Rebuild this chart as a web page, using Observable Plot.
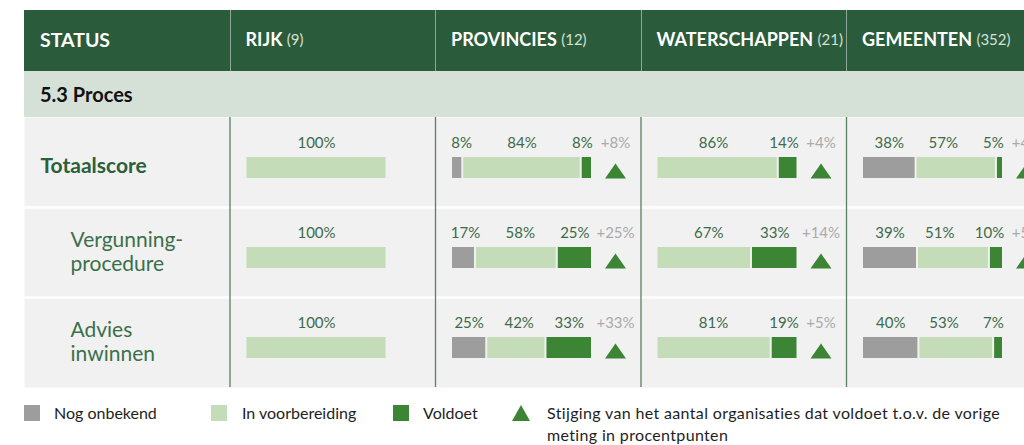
<!DOCTYPE html>
<html>
<head>
<meta charset="utf-8">
<script src="https://cdn.jsdelivr.net/npm/d3@7"></script>
<script src="https://cdn.jsdelivr.net/npm/@observablehq/plot@0.6"></script>
<style>
html,body{margin:0;padding:0;background:#fff;overflow:hidden;font-family:Lato,sans-serif}
#root{position:relative;width:1052px}
.hdr{margin:10px 0 0 24px;height:61px;background:#2a5b3a;display:flex}
.hc{box-sizing:border-box;width:205.5px;flex:none;display:flex;align-items:center;padding:0 0 3px 16px;color:#fff;font-weight:700;font-size:18px;white-space:nowrap;overflow:hidden}
.hc.first{font-size:19.5px}
.hc.sep{border-left:1px solid #8ea797;padding-left:15px}
.hc .n{font-weight:400;font-size:15px;color:#d6e0d8}
.sec{margin-left:24px;height:46px;background:#d5e0d7;display:flex;align-items:center;padding:0 0 1px 16px;box-sizing:border-box;font-weight:700;font-size:20px;color:#111}
#chart svg{display:block}
#legend{position:relative;height:58px;font-size:16px;color:#1e1e1e}
#legend .sw{position:absolute;top:18px;width:16px;height:16px}
#legend .tx{position:absolute;top:15px;line-height:22px;white-space:nowrap}
#legend .tx.wide{letter-spacing:0.35px}
</style>
</head>
<body>
<div id="root">
  <div class="hdr" id="hdr"></div>
  <div class="sec" id="sec"></div>
  <div id="chart"></div>
  <div id="legend"></div>
</div>
<script>
// ---- data ----
const statusHeader = "STATUS";
const sectionTitle = "5.3 Proces";
const orgs = ["RIJK", "PROVINCIES", "WATERSCHAPPEN", "GEMEENTEN"];
const orgCounts = [9, 12, 21, 352];
const rows = ["Totaalscore", "Vergunningprocedure", "Advies inwinnen"];
const rowLabels = ["Totaalscore", "Vergunning-\nprocedure", "Advies\ninwinnen"];
const statuses = ["Nog onbekend", "In voorbereiding", "Voldoet"];
const statusColors = ["#9d9d9d", "#c4dcb8", "#3c8535"];
// values per organisation (outer) and row (inner), in %
const nogOnbekend     = [[0, 0, 0], [8, 17, 25], [0, 0, 0], [38, 39, 40]];
const inVoorbereiding = [[100, 100, 100], [84, 58, 42], [86, 67, 81], [57, 51, 53]];
const voldoet         = [[0, 0, 0], [8, 25, 33], [14, 33, 19], [5, 10, 7]];
const stijging        = [[null, null, null], [8, 25, 33], [4, 14, 5], [4, 5, null]];
const legendTriangleText = "Stijging van het aantal organisaties dat voldoet t.o.v. de vorige<br>meting in procentpunten";

// ---- layout constants ----
const COL = 205.5, BAR = 141, BAR_OFF = 16, K = BAR / 100;
const xMin = -BAR_OFF / K, xMax = (COL - BAR_OFF) / K;
const columns = [statusHeader, ...orgs];

// ---- header (HTML) ----
const hdr = document.getElementById("hdr");
columns.forEach((c, i) => {
  const d = document.createElement("div");
  d.className = "hc" + (i ? " sep" : " first");
  d.innerHTML = i ? `${c}&nbsp;<span class="n">(${orgCounts[i - 1]})</span>` : c;
  hdr.appendChild(d);
});
document.getElementById("sec").textContent = sectionTitle;

// ---- derived tables ----
const segments = [];
orgs.forEach((org, i) => rows.forEach((row, j) => {
  const vals = [nogOnbekend[i][j], inVoorbereiding[i][j], voldoet[i][j]];
  let s = 0;
  vals.forEach((v, k) => {
    if (v > 0) segments.push({org, row, k, status: statuses[k], value: v, x1: s, x2: s + v});
    s += v;
  });
}));

const labelW = v => (String(v).length * 7.8 + 12.5) / K;
const labels = [];
orgs.forEach(org => rows.forEach(row => {
  const items = segments.filter(d => d.org === org && d.row === row)
    .map(d => ({...d, text: d.value + "%", w: labelW(d.value), cx: (d.x1 + d.x2) / 2}));
  items.forEach(d => {
    if (d.k === 0) d.cx = Math.max(d.cx, d.w / 2);
    if (d.k === 2) d.cx = Math.min(d.cx, 100 - d.w / 2);
  });
  items.forEach((d, idx) => {
    if (d.k === 1) {
      const p = items[idx - 1], n = items[idx + 1];
      const L = p ? p.cx + p.w / 2 : 0, R = n ? n.cx - n.w / 2 : 100;
      d.cx = (L + R) / 2;
    }
  });
  labels.push(...items);
}));

const changes = [];
orgs.forEach((org, i) => rows.forEach((row, j) => {
  if (stijging[i][j] != null) changes.push({org, row, text: "+" + stijging[i][j] + "%"});
}));

const rowLabelData = rows.map((row, j) => ({col: statusHeader, row, label: rowLabels[j], bold: j === 0}));
const separators = rows.slice(1).flatMap(row => columns.map(col => ({col, row})));
const dividers = rows.flatMap(row => orgs.map(col => ({col, row})));

const triSymbol = {
  draw(ctx, size) {
    const r = Math.sqrt(size / Math.PI), h = r * 1.43;
    ctx.moveTo(0, -h / 2); ctx.lineTo(r, h / 2); ctx.lineTo(-r, h / 2); ctx.closePath();
  }
};

const chart = Plot.plot({
  width: 1052, height: 270,
  marginLeft: 24, marginRight: 0.5, marginTop: 0, marginBottom: 0,
  style: {fontFamily: "Lato", fontSize: "15px", background: "transparent", maxWidth: "none", overflow: "visible"},
  fx: {domain: columns, padding: 0, round: false, axis: null},
  fy: {domain: rows, padding: 0, round: false, axis: null},
  x: {domain: [xMin, xMax], axis: null},
  y: {domain: [0, 90], reverse: true, axis: null},
  color: {domain: statuses, range: statusColors},
  marks: [
    Plot.frame({fill: "#f1f1f1"}),
    Plot.ruleY(separators, {y: 0, fx: "col", fy: "row", stroke: "#ffffff", strokeWidth: 2.5}),
    Plot.ruleX(dividers, {x: xMin, fx: "col", fy: "row", stroke: "#56815f", strokeWidth: 1.3}),
    Plot.rect(segments, {x1: "x1", x2: "x2", y1: 40, y2: 61, fx: "org", fy: "row", fill: "status", insetLeft: 1, insetRight: 1}),
    Plot.text(labels, {x: "cx", y: 30, text: "text", fx: "org", fy: "row", fill: "#3d6b49", fontSize: 15, lineAnchor: "bottom"}),
    Plot.text(changes, {x: 100, dx: 23, y: 30, text: "text", fx: "org", fy: "row", fill: "#aaaaaa", fontSize: 15, lineAnchor: "bottom"}),
    Plot.dot(changes, {x: 100, dx: 23, y: 53.5, fx: "org", fy: "row", symbol: triSymbol, r: 10.5, fill: "#3c8535", stroke: "none"}),
    Plot.text(rowLabelData.filter(d => d.bold), {x: 0, y: 49, text: "label", fx: "col", fy: "row", textAnchor: "start", fontSize: 21, fontWeight: 700, fill: "#2b5f3a"}),
    Plot.text(rowLabelData.filter(d => !d.bold), {x: 0, dx: 30, y: 44, text: "label", fx: "col", fy: "row", textAnchor: "start", fontSize: 21, lineHeight: 1.15, fill: "#3a7049"})
  ]
});
document.getElementById("chart").appendChild(chart);

// ---- legend (HTML) ----
const legend = document.getElementById("legend");
const swLeft = [24, 211, 393], txLeft = [54, 242, 423];
statuses.forEach((s, k) => {
  legend.insertAdjacentHTML("beforeend",
    `<div class="sw" style="left:${swLeft[k]}px;background:${statusColors[k]}"></div><div class="tx" style="left:${txLeft[k]}px">${s}</div>`);
});
legend.insertAdjacentHTML("beforeend",
  `<svg class="sw" style="left:512px;width:18px" viewBox="0 0 18 16"><path d="M9 0L18 16H0Z" fill="${statusColors[2]}"/></svg><div class="tx wide" style="left:547px">${legendTriangleText}</div>`);
</script>
</body>
</html>
